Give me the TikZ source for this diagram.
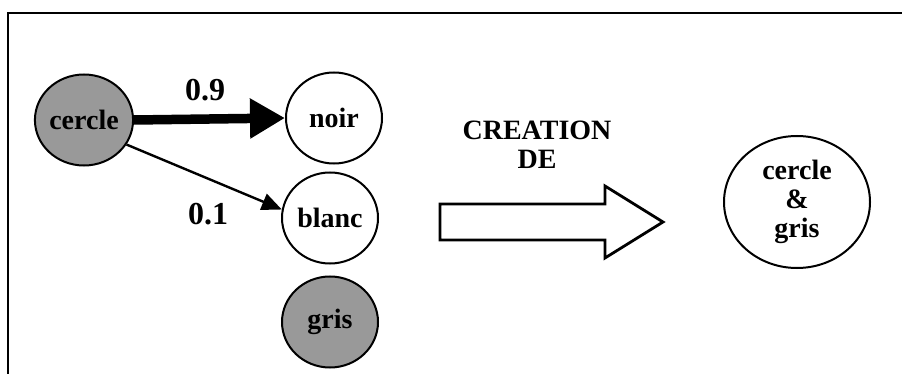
\documentclass[tikz,border=0pt]{standalone}
\usepackage{fontspec}
\setmainfont{Liberation Serif}
\usetikzlibrary{arrows.meta,shapes.geometric}
\begin{document}
\begin{tikzpicture}[x=1pt,y=-1pt,
  lbl/.style={font=\fontsize{28}{31}\selectfont\bfseries},
  prob/.style={font=\fontsize{32}{34}\selectfont\bfseries},
  state/.style={ellipse,draw,line width=2pt,inner sep=0pt,lbl},
  grey/.style={fill=black!40},
  link/.style={line width=2.4pt,-{Triangle[length=20pt,width=17pt]}},
  heavy/.style={line width=9.5pt,-{Triangle[length=35pt,width=38pt]}}]
  \useasboundingbox (0,0) rectangle (902,374);
  % open frame: top and left edges only
  \draw[line width=2.4pt] (902,13) -- (8,13) -- (8,374);
  % states
  \node[state,grey,minimum width=96pt,minimum height=91pt] (cercle) at (84,120) {cercle};
  \node[state,minimum width=96pt,minimum height=91pt] (noir) at (334,118) {noir};
  \node[state,minimum width=96pt,minimum height=91pt] (blanc) at (330,218) {blanc};
  \node[state,grey,minimum width=96pt,minimum height=91pt] (gris) at (330,322) {gris};
  % transitions
  \draw[heavy] (cercle.east) -- (noir.west);
  \draw[link] (cercle.-30) -- (blanc.170);
  \node[prob] (p9) at (205,90) {0.9};
  \node[prob] (p1) at (208,214) {0.1};
  % creation arrow
  \node[lbl,align=center] (creat) at (537,145) {CREATION\\[-2pt]DE};
  \draw[line width=2.8pt,fill=white,line join=miter] (440,204) coordinate (a0) -- (605,204) -- (605,186) -- (663,222) -- (605,258) -- (605,240) -- (440,240) -- cycle;
  % resulting state
  \node[state,minimum width=146pt,minimum height=132pt,align=center] (res) at (797,202) {cercle\\[-2pt]\&\\[-2pt]gris};
\end{tikzpicture}
\end{document}
